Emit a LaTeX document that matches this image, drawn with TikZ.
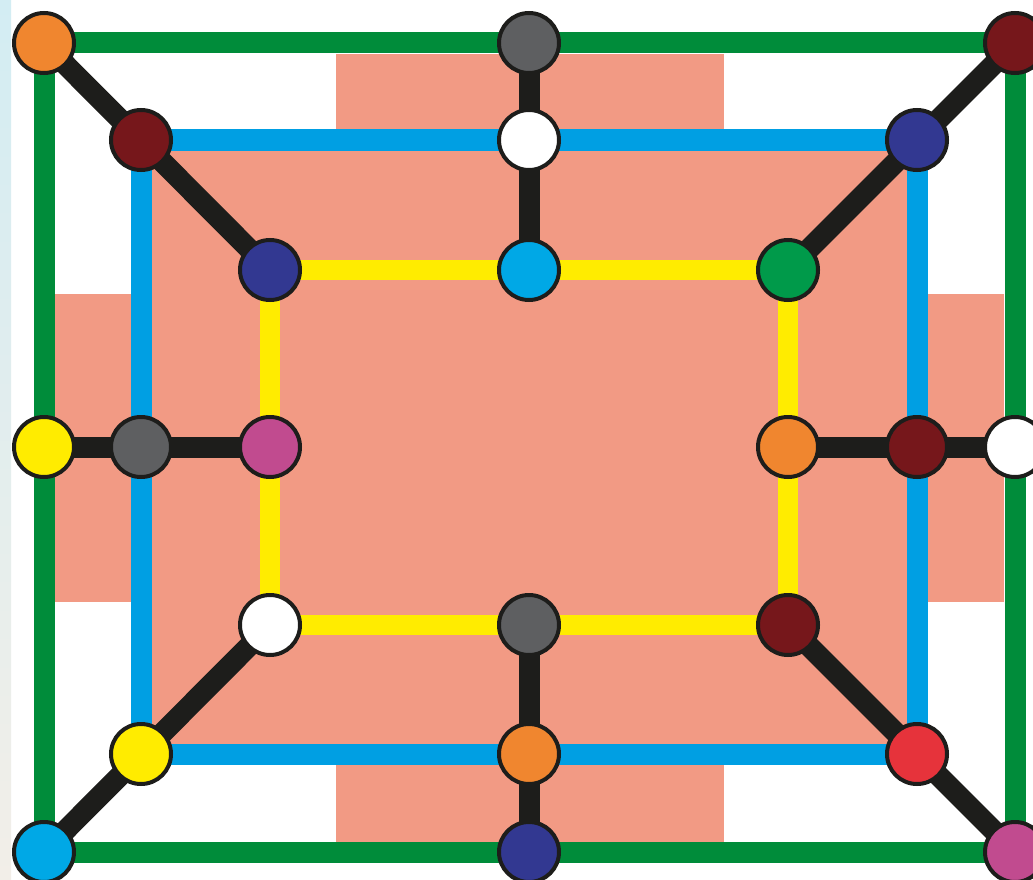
\documentclass[tikz,border=0pt]{standalone}
\usetikzlibrary{backgrounds}
\definecolor{cgreen}{HTML}{008C3A}
\definecolor{cblue}{HTML}{009FE3}
\definecolor{cyel}{HTML}{FFEC00}
\definecolor{csalmon}{HTML}{F29A84}
\definecolor{cblack}{HTML}{1D1D1B}
\definecolor{corange}{HTML}{F0862F}
\definecolor{cgray}{HTML}{5E5F61}
\definecolor{cdred}{HTML}{76171B}
\definecolor{cnavy}{HTML}{323891}
\definecolor{ccyan}{HTML}{00A8E6}
\definecolor{cmag}{HTML}{C14B8F}
\definecolor{cdgreen}{HTML}{009A4A}
\definecolor{cred}{HTML}{E6333B}
\definecolor{stripA}{HTML}{D3EDF3}
\definecolor{stripB}{HTML}{F2EEE8}
\tikzset{
  stn/.style={circle,draw=cblack,line width=4pt,minimum size=60pt,inner sep=0pt,fill=#1},
  gline/.style={draw=cgreen,line width=21pt},
  bline/.style={draw=cblue,line width=21pt},
  yline/.style={draw=cyel,line width=20pt},
  kline/.style={draw=cblack,line width=21pt},
}
\begin{document}
\begin{tikzpicture}[x=1pt,y=-1pt]
\useasboundingbox (0,0) rectangle (1033,880);
\clip (0,0) rectangle (1033,880);
% nodes
\node[stn=corange] (o1) at (44,43) {};
\node[stn=cgray]   (o2) at (529,43) {};
\node[stn=cdred]   (o3) at (1015,43) {};
\node[stn=cyel]    (o4) at (44,447) {};
\node[stn=white]   (o6) at (1015,447) {};
\node[stn=ccyan]   (o7) at (44,852) {};
\node[stn=cnavy]   (o8) at (529,852) {};
\node[stn=cmag]    (o9) at (1015,852) {};
\node[stn=cdred]   (b1) at (141,140) {};
\node[stn=white]   (b2) at (529,140) {};
\node[stn=cnavy]   (b3) at (917,140) {};
\node[stn=cgray]   (b4) at (141,447) {};
\node[stn=cdred]   (b6) at (917,447) {};
\node[stn=cyel]    (b7) at (141,754) {};
\node[stn=corange] (b8) at (529,754) {};
\node[stn=cred]    (b9) at (917,754) {};
\node[stn=cnavy]   (y1) at (270,270) {};
\node[stn=ccyan]   (y2) at (529,270) {};
\node[stn=cdgreen] (y3) at (788,270) {};
\node[stn=cmag]    (y4) at (270,447) {};
\node[stn=corange] (y6) at (788,447) {};
\node[stn=white]   (y7) at (270,625) {};
\node[stn=cgray]   (y8) at (529,625) {};
\node[stn=cdred]   (y9) at (788,625) {};
\begin{scope}[on background layer]
  \fill[white] (0,0) rectangle (1033,880);
  \shade[top color=stripA,bottom color=stripB] (0,0) rectangle (11,880);
  \fill[csalmon] (336,54) rectangle (724,842);
  \fill[csalmon] (55,294) rectangle (1004,602);
  \fill[csalmon] (b1.center) rectangle (b9.center);
  \path[gline] (o1.center) -- (o3.center) -- (o9.center) -- (o7.center) -- cycle;
  \path[bline] (b1.center) -- (b3.center) -- (b9.center) -- (b7.center) -- cycle;
  \path[yline] (y1.center) -- (y3.center) -- (y9.center) -- (y7.center) -- cycle;
  \path[kline] (o1.center) -- (y1.center);
  \path[kline] (o3.center) -- (y3.center);
  \path[kline] (o7.center) -- (y7.center);
  \path[kline] (o9.center) -- (y9.center);
  \path[kline] (o2.center) -- (y2.center);
  \path[kline] (o8.center) -- (y8.center);
  \path[kline] (o4.center) -- (y4.center);
  \path[kline] (o6.center) -- (y6.center);
\end{scope}
\end{tikzpicture}
\end{document}
